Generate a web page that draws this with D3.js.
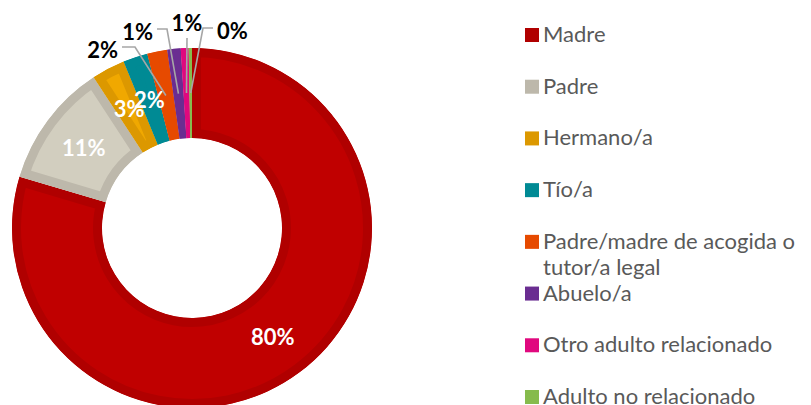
<!DOCTYPE html>
<html>
<head>
<meta charset="utf-8">
<script src="https://cdn.jsdelivr.net/npm/d3@7"></script>
<style>
  body { margin: 0; background: #fff; }
  svg { display: block; }
</style>
</head>
<body>
<script>
let width = 811;
let height = 405;

// data
let categories = ['Madre', 'Padre', 'Hermano/a', 'Tío/a', 'Padre/madre de acogida o tutor/a legal',
    'Abuelo/a', 'Otro adulto relacionado', 'Adulto no relacionado'];
let values = [79.6, 11.2, 3.0, 2.2, 1.8, 1.2, 0.7, 0.3];
let labels = ['80%', '11%', '3%', '2%', '2%', '1%', '1%', '0%'];

let fillColors = ['#c00000', '#d2cebf', '#f0a800', '#008a94', '#e64a00', '#6a2d91', '#e0087e', '#86bb4c'];
let edgeColors = ['#b00000', '#bdb8ab', '#dc9800', '#008a94', '#e64a00', '#6a2d91', '#e0087e', '#86bb4c'];
let legendColors = ['#b00000', '#bdb8ab', '#dc9800', '#008a94', '#e64a00', '#6a2d91', '#e0087e', '#86bb4c'];

let cx = 192, cy = 228;
let outerR = 180, innerR = 90;

let svg = d3.select("body").append("svg")
    .attr("width", width)
    .attr("height", height);

let pie = d3.pie().sort(null).value(d => d)(values);
let arc = d3.arc().innerRadius(innerR).outerRadius(outerR);
let labelArc = d3.arc().innerRadius(135).outerRadius(135);

let g = svg.append("g").attr("transform", `translate(${cx},${cy})`);
let defs = svg.append("defs");

pie.forEach((d, i) => {
    defs.append("clipPath").attr("id", "clip" + i)
        .append("path").attr("d", arc(d));
});

// slices with an inset darker edge
g.selectAll("path.slice")
    .data(pie)
    .enter()
    .append("path")
    .attr("class", "slice")
    .attr("d", arc)
    .attr("clip-path", (d, i) => `url(#clip${i})`)
    .style("fill", (d, i) => fillColors[i])
    .style("stroke", (d, i) => edgeColors[i])
    .style("stroke-width", 18);

// labels inside big slices
let insideIdx = [0, 1, 2, 3];
g.selectAll("text.inside")
    .data(insideIdx)
    .enter()
    .append("text")
    .attr("class", "inside")
    .attr("x", i => labelArc.centroid(pie[i])[0])
    .attr("y", i => labelArc.centroid(pie[i])[1])
    .attr("text-anchor", "middle")
    .attr("dominant-baseline", "central")
    .style("font-family", "Lato, sans-serif")
    .style("font-weight", "bold")
    .style("font-size", "22px")
    .style("fill", "#fff")
    .text(i => labels[i]);

// outer labels with leader lines: [index, elbow dx, elbow dy, text side]
let outside = [
    [4, -57, -181, -13],
    [5, -25, -199, -10],
    [6, -5, -190, 0],
    [7, 11, -200, 10]
];

outside.forEach(([i, ex, ey, run]) => {
    let c = labelArc.centroid(pie[i]);
    let pts = run === 0
        ? [c, [ex, ey]]
        : [c, [ex, ey], [ex + run, ey]];
    g.append("path")
        .attr("d", d3.line()(pts))
        .style("fill", "none")
        .style("stroke", "#a6a6a6")
        .style("stroke-width", 1.6);
    let tx = run === 0 ? ex : ex + run + (run < 0 ? -4 : 4);
    let ty = run === 0 ? ey - 16 : ey + 2;
    g.append("text")
        .attr("x", tx)
        .attr("y", ty)
        .attr("text-anchor", run === 0 ? "middle" : (run < 0 ? "end" : "start"))
        .attr("dominant-baseline", "central")
        .style("font-family", "Lato, sans-serif")
        .style("font-weight", "bold")
        .style("font-size", "22px")
        .style("fill", "#000")
        .text(labels[i]);
});

// legend
let legendY = d3.scalePoint().domain(d3.range(categories.length)).range([35, 397]);
let legend = svg.append("g");
categories.forEach((name, i) => {
    let y = legendY(i);
    legend.append("rect")
        .attr("x", 525)
        .attr("y", y - 7)
        .attr("width", 14)
        .attr("height", 14)
        .style("fill", legendColors[i]);
    let lines = name === 'Padre/madre de acogida o tutor/a legal'
        ? ['Padre/madre de acogida o', 'tutor/a legal'] : [name];
    let t = legend.append("text")
        .attr("x", 543)
        .attr("y", y + 7)
        .style("font-family", "Lato, sans-serif")
        .style("font-size", "22px")
        .style("fill", "#595959");
    lines.forEach((l, k) => {
        t.append("tspan").attr("x", 543).attr("dy", k === 0 ? 0 : 26).text(l);
    });
});
</script>
</body>
</html>
